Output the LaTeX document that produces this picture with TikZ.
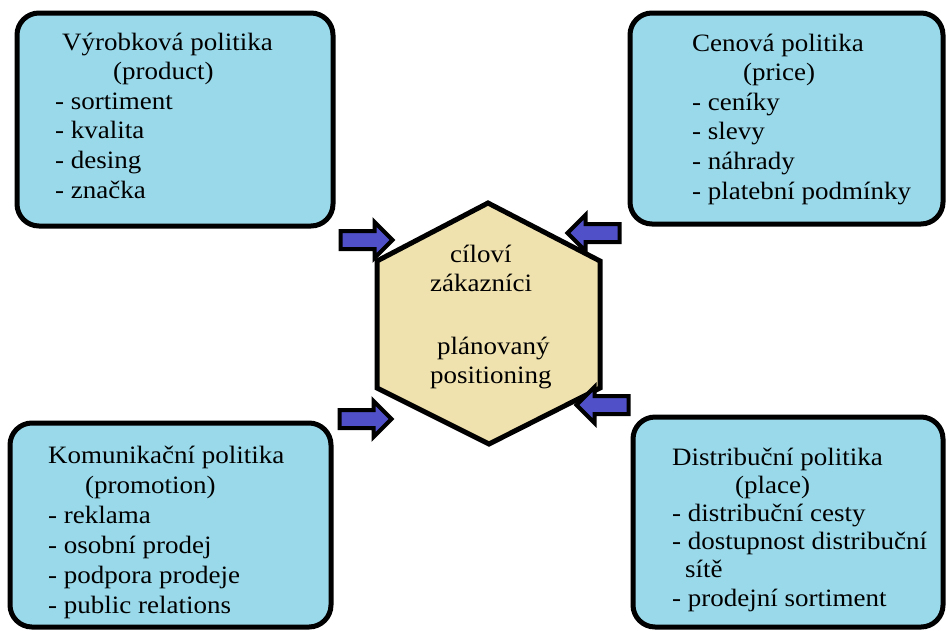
\documentclass[tikz,border=0pt]{standalone}
\usepackage{fontspec}
\setmainfont{Liberation Serif}[FakeStretch=1.08]
\usetikzlibrary{shapes.arrows}
\definecolor{boxblue}{RGB}{153,217,234}
\definecolor{hexfill}{RGB}{240,226,174}
\definecolor{arrowblue}{RGB}{80,80,200}
\newcommand{\textlines}[2]{\vtop{\baselineskip=#1\lineskiplimit=-100pt\lineskip=0pt\relax #2}}
\begin{document}
\begin{tikzpicture}[x=1pt,y=-1pt,
  mixbox/.style={draw=black,line width=5pt,fill=boxblue,rounded corners=22pt},
  boxtext/.style={anchor=base west,inner sep=0pt,font=\fontsize{25}{29.6}\selectfont},
  blockarrow/.style={shape=single arrow,draw=black,line width=4pt,fill=arrowblue,
    minimum height=52pt,minimum width=33pt,inner sep=7pt,single arrow head extend=9pt,
    single arrow tip angle=90},
]
\useasboundingbox (0,0) rectangle (947,630);
\fill[white] (0,0) rectangle (947,630);

% boxes
\path[mixbox] (17,13) rectangle (333,226);
\path[mixbox] (630,13) rectangle (943,224);
\path[mixbox] (10,423) rectangle (331,627);
\path[mixbox] (633,417) rectangle (943,627);

% texts
\node[boxtext] (product) at (55,50) {\textlines{29.6pt}{\hbox{\hspace*{7pt}Výrobková politika}\hbox{\hspace*{58pt}(product)}\hbox{- sortiment}\hbox{- kvalita}\hbox{- desing}\hbox{- značka}}};
\node[boxtext] (price) at (692,51) {\textlines{29.6pt}{\hbox{Cenová politika}\hbox{\hspace*{51pt}(price)}\hbox{- ceníky}\hbox{- slevy}\hbox{- náhrady}\hbox{- platební podmínky}}};
\node[boxtext] (promotion) at (48,463) {\textlines{30pt}{\hbox{Komunikační politika}\hbox{\hspace*{37pt}(promotion)}\hbox{- reklama}\hbox{- osobní prodej}\hbox{- podpora prodeje}\hbox{- public relations}}};
\node[boxtext] (place) at (672,465) {\textlines{28.2pt}{\hbox{Distribuční politika}\hbox{\hspace*{63pt}(place)}\hbox{- distribuční cesty}\hbox{- dostupnost distribuční}\hbox{\hspace*{13pt}sítě}\hbox{- prodejní sortiment}}};

% hexagon
\draw[line width=5pt,fill=hexfill,line join=miter]
  (488,203) -- (600,261) -- (600,388) -- (489,444) -- (377,388) -- (377,261) -- cycle;
\node[boxtext] (center) at (430,262) {\textlines{29pt}{\hbox{\hspace*{20pt}cíloví}\hbox{zákazníci}\vskip34pt\hbox{\hspace*{7pt}plánovaný}\hbox{positioning}}};

% arrows
\node[blockarrow] (a1) at (362,240) {};
\node[blockarrow,shape border rotate=180] (a2) at (598,233) {};
\node[blockarrow] (a3) at (361,419) {};
\node[blockarrow,shape border rotate=180] (a4) at (607,405) {};
\end{tikzpicture}
\end{document}
